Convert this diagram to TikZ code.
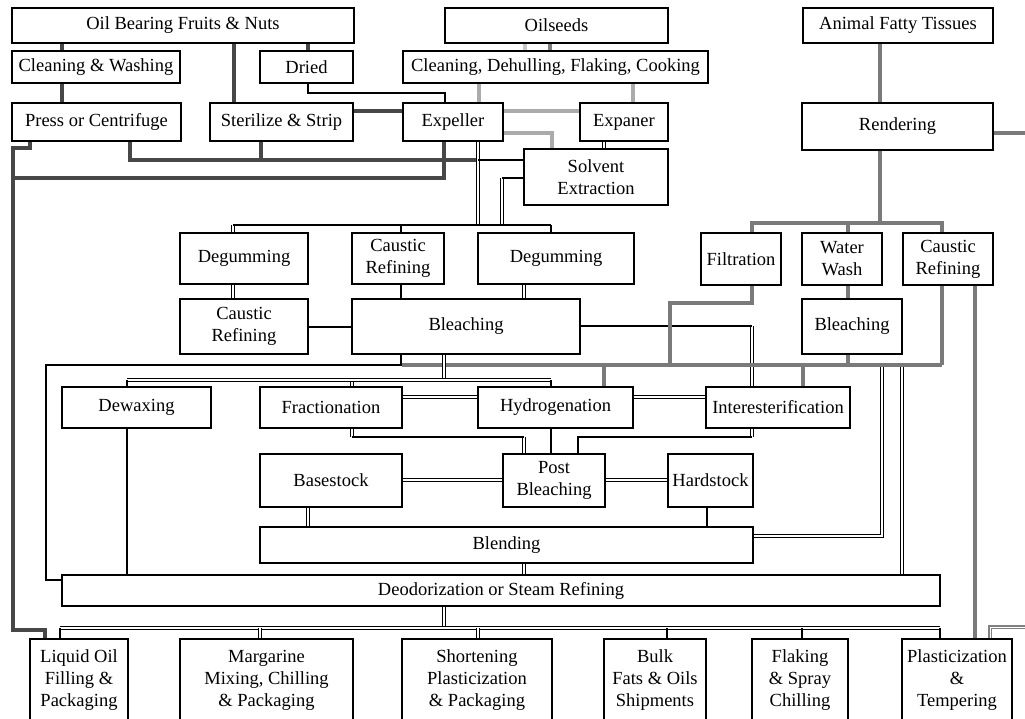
\documentclass[tikz,border=0pt]{standalone}
\usepackage{fontspec}
\setmainfont{Liberation Serif}
\begin{document}
\begin{tikzpicture}[x=1pt,y=-1pt,
  box/.style={draw=black, line width=1.1pt, fill=white, inner sep=0pt, align=center,
    font=\fontsize{18.5}{22}\selectfont},
  dg/.style={draw=black!72, line width=4pt},
  lg/.style={draw=black!33, line width=4pt},
  mg/.style={draw=black!52, line width=4pt},
  blk/.style={draw=black, line width=2.6pt},
  dbl/.style={draw=black, line width=1.1pt, double=white, double distance=1.8pt},
  gdbl/.style={draw=black!50, line width=1.6pt, double=white, double distance=0.8pt}]
\useasboundingbox (0,0) rectangle (1025,719);
\clip (0,0) rectangle (1025,719);
\newcommand\bx[6]{\node[box, minimum width={(#4-#2)*1pt}, minimum height={(#5-#3)*1pt}] (#1) at ({(#2+#4)/2},{(#3+#5)/2}) {#6};}
% boxes
\bx{oil}{12}{8}{354}{43}{Oil Bearing Fruits \& Nuts}
\bx{seeds}{445}{8}{668}{43}{Oilseeds}
\bx{animal}{803}{8}{993}{43}{Animal Fatty Tissues}
\bx{clean}{12}{51}{180}{83}{Cleaning \& Washing}
\bx{dried}{260}{51}{353}{83}{Dried}
\bx{cdfc}{403}{51}{708}{83}{Cleaning, Dehulling, Flaking, Cooking}
\bx{press}{12}{103}{181}{141}{Press or Centrifuge}
\bx{steril}{210}{103}{353}{141}{Sterilize \& Strip}
\bx{expel}{403}{103}{503}{141}{Expeller}
\bx{expan}{580}{103}{668}{141}{Expaner}
\bx{solv}{524}{149}{668}{205}{Solvent\\Extraction}
\bx{rend}{802}{103}{993}{150}{Rendering}
\bx{degL}{180}{233}{308}{284}{Degumming}
\bx{cauM}{352}{233}{444}{284}{Caustic\\Refining}
\bx{degR}{478}{233}{634}{284}{Degumming}
\bx{filt}{701}{233}{781}{285}{Filtration}
\bx{wash}{802}{233}{882}{285}{Water\\Wash}
\bx{cauR}{903}{233}{993}{285}{Caustic\\Refining}
\bx{cauL}{180}{299}{308}{354}{Caustic\\Refining}
\bx{bleM}{352}{299}{580}{354}{Bleaching}
\bx{bleR}{802}{299}{902}{354}{Bleaching}
\bx{dewax}{62}{387}{211}{428}{Dewaxing}
\bx{frac}{260}{387}{402}{428}{Fractionation}
\bx{hydro}{478}{387}{633}{428}{Hydrogenation}
\bx{inter}{706}{387}{850}{428}{Interesterification}
\bx{base}{260}{454}{402}{507}{Basestock}
\bx{post}{503}{454}{605}{507}{Post\\Bleaching}
\bx{hard}{668}{454}{753}{507}{Hardstock}
\bx{blend}{260}{527}{753}{563}{Blending}
\bx{deo}{62}{575}{940}{606}{Deodorization or Steam Refining}
\bx{liq}{30}{639}{128}{722}{Liquid Oil\\Filling \&\\Packaging}
\bx{marg}{180}{639}{353}{722}{Margarine\\Mixing, Chilling\\\& Packaging}
\bx{short}{402}{639}{552}{722}{Shortening\\Plasticization\\\& Packaging}
\bx{bulk}{604}{639}{706}{722}{Bulk\\Fats \& Oils\\Shipments}
\bx{flak}{752}{639}{848}{722}{Flaking\\\& Spray\\Chilling}
\bx{plas}{902}{639}{1012}{722}{Plasticization\\\&\\Tempering}
% fruits & nuts
\draw[dg] (oil.south -| 62,0) -- (clean.north -| 62,0);
\draw[dg] (clean.south -| 62,0) -- (press.north -| 62,0);
\draw[dg] (oil.south -| 234,0) -- (steril.north -| 234,0);
\draw[dg] (oil.south -| 308,0) -- (dried.north -| 308,0);
\draw[dg] (steril.east |- 0,111) -- (expel.west |- 0,111);
\draw[dg] (press.south -| 130,0) |- (478,160);
\draw[dg] (steril.south -| 261,0) -- (261,160);
\draw[dg] (expel.south -| 444,0) |- (13,178);
\draw[dg] (press.south -| 30,0) |- (13,148) -- (13,630) -| (liq.north -| 45,0);
\draw[blk, line width=2.2pt] (dried.south -| 308,0) |- (445,93) -- (expel.north -| 445,0);
% oilseeds
\draw[lg, draw=black!22] (seeds.south -| 525,0) -- (cdfc.north -| 525,0);
\draw[lg, draw=black!50] (seeds.south -| 550,0) -- (cdfc.north -| 550,0);
\draw[lg] (cdfc.south -| 479,0) -- (expel.north -| 479,0);
\draw[lg] (cdfc.south -| 633,0) -- (expan.north -| 633,0);
\draw[lg] (expel.east |- 0,111) -- (expan.west |- 0,111);
\draw[lg] (expel.east |- 0,133) -| (solv.north -| 552,0);
\draw[dbl] (expan.south -| 604,0) -- (solv.north -| 604,0);
% to refining
\draw[dbl] (expel.south -| 478,0) -- (478,225);
\draw[dbl] (502,178) -- (502,225);
\draw[blk, line width=2.2pt] (solv.west |- 0,160) -- (478,160);
\draw[blk, line width=2.2pt] (solv.west |- 0,178) -- (502,178);
\draw[dbl] (233,225) -- (degL.north -| 233,0);
\draw[blk] (233,225) -- (551,225);
\draw[blk] (401,225) -- (cauM.north -| 401,0);
\draw[blk] (551,225) -- (degR.north -| 551,0);
\draw[dbl] (degL.south -| 233,0) -- (cauL.north -| 233,0);
\draw[blk] (cauL.east |- 0,327) -- (bleM.west |- 0,327);
\draw[blk] (cauM.south -| 401,0) -- (bleM.north -| 401,0);
\draw[dbl] (degR.south -| 524,0) -- (bleM.north -| 524,0);
\draw[dbl] (752,326) -- (inter.north -| 752,0);
\draw[blk] (bleM.east |- 0,326) -- (752,326);
% animal fats
\draw[mg] (animal.south -| 880,0) -- (rend.north -| 880,0);
\draw[mg] (rend.south -| 880,0) -- (880,223);
\draw[mg] (filt.north -| 752,0) |- (942,223) -- (cauR.north -| 942,0);
\draw[mg] (848,223) -- (wash.north -| 848,0);
\draw[mg] (wash.south -| 848,0) -- (bleR.north -| 848,0);
\draw[mg] (rend.east |- 0,133) -- (1035,133);
\draw[gdbl, line width=2pt] (1035,627) -| (plas.north -| 990,0);
\draw[mg] (cauR.south -| 975,0) -- (plas.north -| 975,0);
% buses to modification
\draw[dbl] (882,365) |- (blend.east |- 0,536);
\draw[dbl] (902,365) -- (deo.north -| 902,0);
\draw[mg] (402,365) -- (942,365);
\draw[mg] (604,365) -- (hydro.north -| 604,0);
\draw[mg] (803,365) -- (inter.north -| 803,0);
\draw[mg] (filt.south -| 752,0) |- (670,303) -- (670,365);
\draw[mg] (bleR.south -| 848,0) -- (848,365);
\draw[mg] (cauR.south -| 942,0) -- (942,365);
\draw[blk] (bleM.south -| 401,0) |- (46,365) |- (deo.west |- 0,580);
\draw[dbl] (bleM.south -| 444,0) -- (444,380);
\draw[dbl] (352,380) -- (frac.north -| 352,0);
\draw[dbl] (127,380) -- (551,380);
\draw[blk] (127,380) -- (dewax.north -| 127,0);
\draw[blk] (551,380) -- (hydro.north -| 551,0);
% modification
\draw[dbl] (frac.east |- 0,397) -- (hydro.west |- 0,397);
\draw[dbl] (hydro.east |- 0,397) -- (inter.west |- 0,397);
\draw[blk] (dewax.south -| 127,0) -- (deo.north -| 127,0);
\draw[dbl] (frac.south -| 352,0) -- (352,437);
\draw[dbl] (524,437) -- (post.north -| 524,0);
\draw[blk] (352,437) -- (524,437);
\draw[blk] (hydro.south -| 551,0) -- (post.north -| 551,0);
\draw[dbl] (inter.south -| 752,0) -- (752,437);
\draw[blk] (752,437) -| (post.north -| 578,0);
\draw[dbl] (base.east |- 0,480) -- (post.west |- 0,480);
\draw[dbl] (post.east |- 0,480) -- (hard.west |- 0,480);
\draw[dbl] (base.south -| 308,0) -- (blend.north -| 308,0);
\draw[blk] (hard.south -| 707,0) -- (blend.north -| 707,0);
\draw[dbl] (blend.south -| 524,0) -- (deo.north -| 524,0);
% products
\draw[dbl] (deo.south -| 444,0) -- (444,628);
\draw[dbl] (60,628) -- (940,628);
\draw[blk] (60,628) -- (liq.north -| 60,0);
\draw[dbl] (260,628) -- (marg.north -| 260,0);
\draw[dbl] (478,628) -- (short.north -| 478,0);
\draw[blk] (667,628) -- (bulk.north -| 667,0);
\draw[blk] (802,628) -- (flak.north -| 802,0);
\draw[blk] (940,628) -- (plas.north -| 940,0);
\end{tikzpicture}
\end{document}
